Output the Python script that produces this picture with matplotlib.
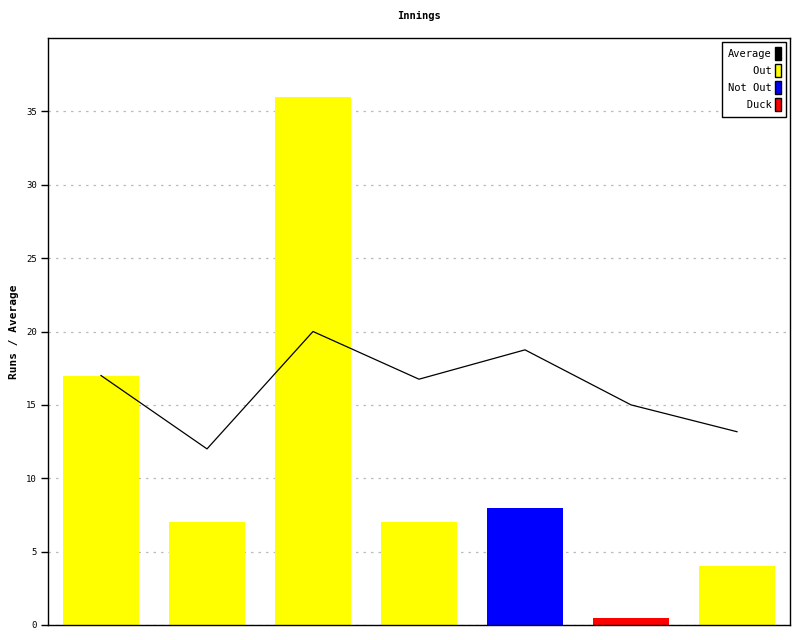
import matplotlib
matplotlib.use("Agg")
import matplotlib.pyplot as plt
from matplotlib.patches import Patch

# innings data
runs = [17, 7, 36, 7, 8, 0.5, 4]
status = ["Out", "Out", "Out", "Out", "Not Out", "Duck", "Out"]
average = [17, 12, 20, 16.75, 18.75, 15, 13.17]
status_colors = {"Out": "#ffff00", "Not Out": "#0000ff", "Duck": "#ff0000"}
legend_labels = ["Average", "Out", "Not Out", "Duck"]
yticks = [0, 5, 10, 15, 20, 25, 30, 35]

mono = "DejaVu Sans Mono"
plt.rcParams['font.family'] = mono

fig = plt.figure(figsize=(8, 6.4), dpi=100)
ax = fig.add_axes([48/800, 15/640, 742/800, 587/640])

x = list(range(len(runs)))
ax.bar(x, runs, width=0.72, color=[status_colors[s] for s in status], zorder=2)
ax.plot(x, average, color="black", lw=0.9, zorder=3)

ax.set_xlim(-0.5, len(runs) - 0.5)
ax.set_ylim(0, 40)
ax.set_xticks([])
ax.set_yticks(yticks)
ax.tick_params(axis="y", direction="out", length=5, width=1, labelsize=6.5, pad=3)
ax.grid(axis="y", color="#bbbbbb", linestyle=(0, (2, 4)), lw=0.9, zorder=1)
for sp in ax.spines.values():
    sp.set_linewidth(1)
    sp.set_color("black")

ax.set_title("Innings", fontsize=7.5, fontweight="bold", pad=14)
ax.set_ylabel("Runs / Average", fontsize=8, fontweight="bold", labelpad=5)

width = max(len(l) for l in legend_labels)
handles = [Patch(facecolor="black", edgecolor="black")]
handles += [Patch(facecolor=status_colors[l], edgecolor="black") for l in legend_labels[1:]]
ax.legend(handles, [l.rjust(width) for l in legend_labels], loc="upper right",
          markerfirst=False, handlelength=0.55, handleheight=1.6,
          handletextpad=0.4, labelspacing=0.35, borderpad=0.5,
          borderaxespad=0.35, fancybox=False, edgecolor="black", framealpha=1,
          prop={"family": mono, "size": 7.5})

fig.savefig("out.png", dpi=100)
